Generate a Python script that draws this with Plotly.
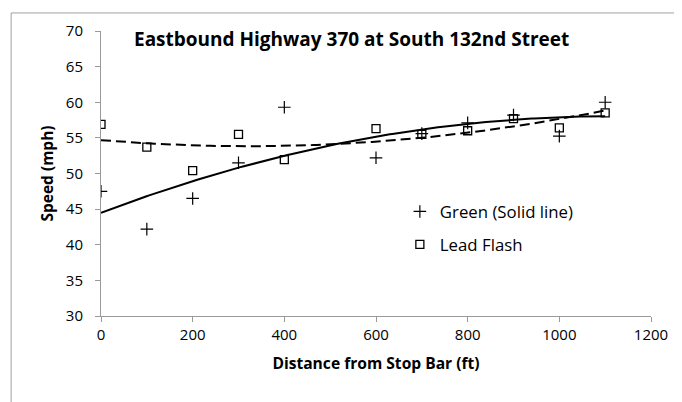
import numpy as np
import plotly.graph_objects as go

distance = [0, 100, 200, 300, 400, 600, 700, 800, 900, 1000, 1100]
green_speed = [47.5, 42.2, 46.5, 51.5, 59.3, 52.2, 55.6, 57.1, 58.2, 55.25, 60.0]
lead_flash_speed = [56.9, 53.7, 50.4, 55.5, 51.95, 56.3, 55.5, 56.0, 57.7, 56.4, 58.5]

x_ticks = [0, 200, 400, 600, 800, 1000, 1200]
y_ticks = [30, 35, 40, 45, 50, 55, 60, 65, 70]

FONT = "Open Sans"

# page has an 8px body margin; figure sized to fit the window
W, H = 674, 394
L, T = 92.7, 18.8
PW, PH = 550.8, 288.8
R = W - L - PW
B = H - T - PH

def px(x):   # figure px -> paper x
    return (x - L) / PW

def py(y):   # figure px (from top) -> paper y
    return 1 - (y - T) / PH

# Excel-style 2nd-order polynomial trendlines
xs = np.linspace(0, 1100, 200)
g_fit = np.polyval(np.polyfit(distance, green_speed, 2), xs)
l_fit = np.polyval(np.polyfit(distance, lead_flash_speed, 2), xs)

fig = go.Figure()
fig.add_trace(go.Scatter(x=xs, y=g_fit, mode="lines", line=dict(color="black", width=2),
                         showlegend=False, hoverinfo="skip"))
fig.add_trace(go.Scatter(x=xs, y=l_fit, mode="lines",
                         line=dict(color="black", width=2, dash="10px,5px"),
                         showlegend=False, hoverinfo="skip"))
fig.add_trace(go.Scatter(x=distance, y=green_speed, mode="markers", name="Green (Solid line)",
                         legendgroup="g",
                         marker=dict(symbol="cross-thin", size=9, line=dict(color="black", width=1.2))))
fig.add_trace(go.Scatter(x=distance, y=lead_flash_speed, mode="markers", name="Lead Flash",
                         legendgroup="l",
                         marker=dict(symbol="square-open", size=8, color="black", line=dict(width=1.3))))

fig.update_layout(
    width=W, height=H,
    margin=dict(l=L, r=R, t=T, b=B, pad=0),
    paper_bgcolor="white", plot_bgcolor="white",
    font=dict(family=FONT, size=15, color="black"),
    showlegend=True,
    legend=dict(x=px(392), y=py(184), xanchor="left", yanchor="top", bgcolor="rgba(0,0,0,0)",
                font=dict(size=16.8), tracegroupgap=8, traceorder="grouped"),
    annotations=[dict(text="<b>Eastbound Highway 370 at South 132nd Street</b>",
                      x=px(124), y=py(26.5), xref="paper", yref="paper", xanchor="left", yanchor="middle",
                      showarrow=False, font=dict(size=19, family=FONT))],
    shapes=[dict(type="rect", xref="paper", yref="paper",
                 x0=px(2.7), x1=px(700), y0=py(420), y1=py(0.5),
                 line=dict(color="#a0a0a0", width=1), layer="below")],
)
fig.update_xaxes(range=[0, 1200], tickvals=x_ticks, showgrid=False, zeroline=False,
                 showline=True, linecolor="#9a9a9a", linewidth=1, ticks="outside", ticklen=5,
                 tickcolor="#9a9a9a", tickfont=dict(size=15),
                 title=dict(text="<b>Distance from Stop Bar (ft)</b>", font=dict(size=15.6), standoff=15))
fig.update_yaxes(range=[30, 70], tickvals=y_ticks, showgrid=False, zeroline=False,
                 showline=True, linecolor="#9a9a9a", linewidth=1, ticks="outside", ticklen=5,
                 tickcolor="#9a9a9a", tickfont=dict(size=15), ticklabelstandoff=9,
                 title=dict(text="<b>Speed (mph)</b>", font=dict(size=15.5), standoff=8))

fig.write_html("out.html")
